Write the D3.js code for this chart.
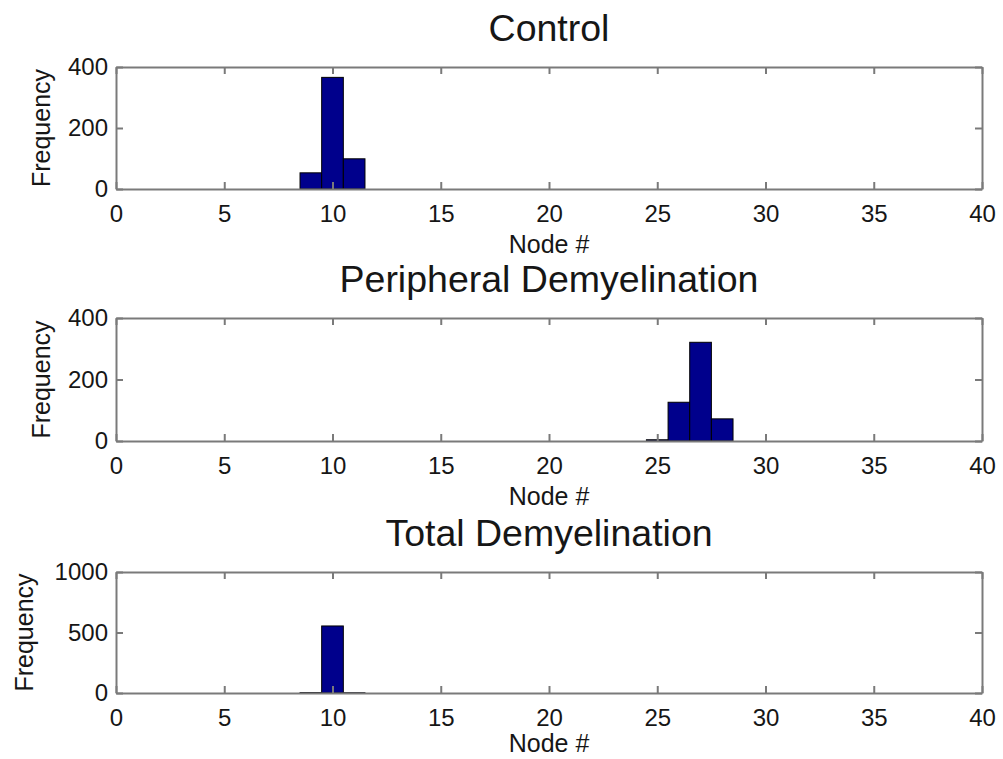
<!DOCTYPE html>
<html>
<head>
<meta charset="utf-8">
<title>Node histograms</title>
<style>
body { margin: 0; background: #fff; }
text { font-family: "Liberation Sans", Arial, sans-serif; fill: #161616; }
.axis path, .axis line { stroke: #7a7a7a; stroke-width: 2px; }
.axis text { font-size: 24px; fill: #161616; }
rect.bar { fill: #00008c; stroke: #000; stroke-width: 1px; }
</style>
</head>
<body>
<script src="https://cdn.jsdelivr.net/npm/d3@7"></script>
<script>

// data
var panelTitles = ["Control", "Peripheral Demyelination", "Total Demyelination"];

var controlNodes = [9, 10, 11];
var controlCounts = [53, 366, 99];

var peripheralNodes = [25, 26, 27, 28];
var peripheralCounts = [4, 126, 321, 72];

var totalNodes = [9, 10, 11];
var totalCounts = [3, 554, 2];

var xTicks = [0, 5, 10, 15, 20, 25, 30, 35, 40];
var yTicksSmall = [0, 200, 400];
var yTicksLarge = [0, 500, 1000];

var panels = [
  {title: panelTitles[0], nodes: controlNodes, counts: controlCounts, ymax: 400, yticks: yTicksSmall, top: 67, bottom: 189, ylabX: 50},
  {title: panelTitles[1], nodes: peripheralNodes, counts: peripheralCounts, ymax: 400, yticks: yTicksSmall, top: 318, bottom: 441, ylabX: 50},
  {title: panelTitles[2], nodes: totalNodes, counts: totalCounts, ymax: 1000, yticks: yTicksLarge, top: 572, bottom: 693, ylabX: 33}
];

var width = 1003,
    height = 759,
    left = 116,
    right = 982;

var svg = d3.select("body").append("svg")
    .attr("width", width)
    .attr("height", height);

var x = d3.scaleLinear().domain([0, 40]).range([left, right]);

panels.forEach(function(p, i) {
  var y = d3.scaleLinear().domain([0, p.ymax]).range([p.bottom, p.top]);
  var g = svg.append("g");

  var bins = p.nodes.map(function(n, j) { return {node: n, count: p.counts[j]}; });

  // bars
  g.selectAll("rect.bar")
    .data(bins)
    .enter().append("rect")
    .attr("class", "bar")
    .attr("x", function(d) { return x(d.node - 0.5); })
    .attr("width", function(d) { return x(d.node + 0.5) - x(d.node - 0.5); })
    .attr("y", function(d) { return y(d.count); })
    .attr("height", function(d) { return p.bottom - y(d.count); });

  // box axes, ticks pointing in
  g.append("g").attr("class", "axis")
    .attr("transform", "translate(0," + p.bottom + ")")
    .call(d3.axisBottom(x).tickValues(xTicks).tickSizeInner(-7).tickSizeOuter(0).tickPadding(16).tickFormat(d3.format("d")));

  g.append("g").attr("class", "axis")
    .attr("transform", "translate(0," + p.top + ")")
    .call(d3.axisTop(x).tickValues(xTicks).tickSizeInner(-7).tickSizeOuter(0).tickFormat(""));

  g.append("g").attr("class", "axis")
    .attr("transform", "translate(" + left + ",0)")
    .call(d3.axisLeft(y).tickValues(p.yticks).tickSizeInner(-7).tickSizeOuter(0).tickPadding(8).tickFormat(d3.format("d")));

  g.append("g").attr("class", "axis")
    .attr("transform", "translate(" + right + ",0)")
    .call(d3.axisRight(y).tickValues(p.yticks).tickSizeInner(-7).tickSizeOuter(0).tickFormat(""));

  g.selectAll(".axis text").attr("font-family", null);

  // title
  g.append("text")
    .attr("x", (left + right) / 2)
    .attr("y", p.top - 26)
    .attr("text-anchor", "middle")
    .style("font-size", "37.5px")
    .text(p.title);

  // x label (last one nudged up so it stays inside the page)
  g.append("text")
    .attr("x", (left + right) / 2)
    .attr("y", p.bottom + (i == 2 ? 59 : 64))
    .attr("text-anchor", "middle")
    .style("font-size", "25px")
    .text("Node #");

  // y label
  g.append("text")
    .attr("transform", "translate(" + p.ylabX + "," + ((p.top + p.bottom) / 2) + ") rotate(-90)")
    .attr("text-anchor", "middle")
    .style("font-size", "25px")
    .text("Frequency");
});

</script>
</body>
</html>
